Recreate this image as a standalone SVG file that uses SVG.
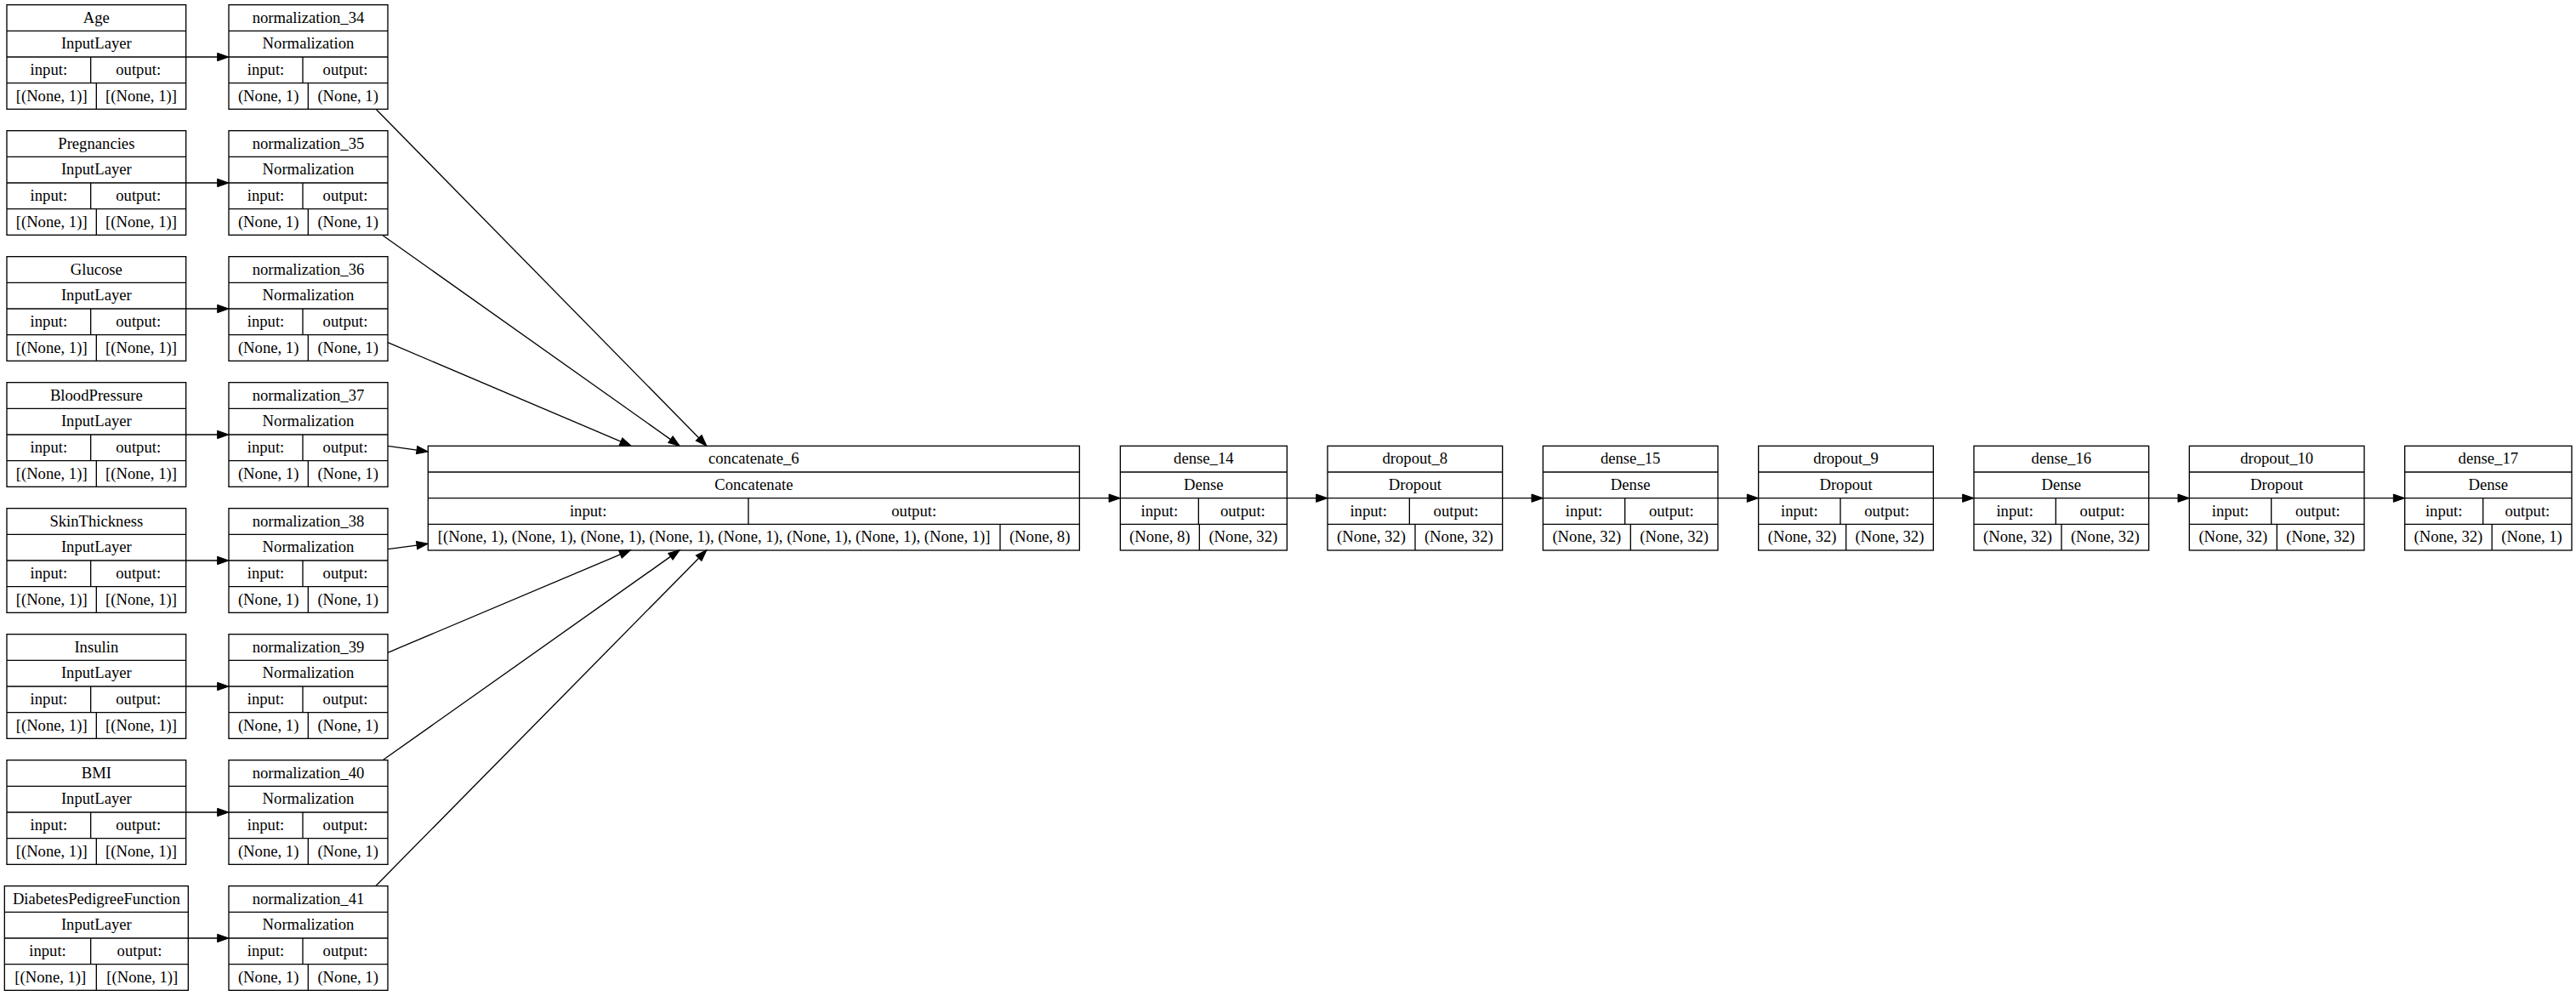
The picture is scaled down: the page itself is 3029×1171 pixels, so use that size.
<svg xmlns="http://www.w3.org/2000/svg" width="3029" height="1171" viewBox="0 0 3029 1171">
<defs>
<style>
.n rect, .n line { fill: none; stroke: #000; stroke-width: 1.33; }
.n text { font-family: "Liberation Serif", "Times New Roman", serif; font-size: 18.67px; text-anchor: middle; fill: #000; }
.e line { stroke: #000; stroke-width: 1.33; fill: none; marker-end: url(#ah); }
</style>
<marker id="ah" markerUnits="userSpaceOnUse" markerWidth="14" markerHeight="10" refX="0" refY="4.67" orient="auto" overflow="visible">
<path d="M0,0 L13.33,4.67 L0,9.33 z" fill="#000" stroke="#000" stroke-width="1"/>
</marker>
</defs>
<rect width="3029" height="1171" fill="#fff"/>

<!-- Input layers -->
<g id="in_age" class="n">
<rect x="8" y="5.67" width="210.67" height="122.67"/>
<line x1="8" y1="36.33" x2="218.67" y2="36.33"/><line x1="8" y1="67" x2="218.67" y2="67"/><line x1="8" y1="97.67" x2="218.67" y2="97.67"/>
<line x1="106.67" y1="67" x2="106.67" y2="97.67"/><line x1="113.33" y1="97.67" x2="113.33" y2="128.33"/>
<text x="113.33" y="26.67">Age</text><text x="113.33" y="57.33">InputLayer</text>
<text x="57.33" y="88">input:</text><text x="162.67" y="88">output:</text>
<text x="60.67" y="118.67">[(None, 1)]</text><text x="166" y="118.67">[(None, 1)]</text>
</g>
<g id="in_preg" class="n" transform="translate(0,148)">
<rect x="8" y="5.67" width="210.67" height="122.67"/>
<line x1="8" y1="36.33" x2="218.67" y2="36.33"/><line x1="8" y1="67" x2="218.67" y2="67"/><line x1="8" y1="97.67" x2="218.67" y2="97.67"/>
<line x1="106.67" y1="67" x2="106.67" y2="97.67"/><line x1="113.33" y1="97.67" x2="113.33" y2="128.33"/>
<text x="113.33" y="26.67">Pregnancies</text><text x="113.33" y="57.33">InputLayer</text>
<text x="57.33" y="88">input:</text><text x="162.67" y="88">output:</text>
<text x="60.67" y="118.67">[(None, 1)]</text><text x="166" y="118.67">[(None, 1)]</text>
</g>
<g id="in_glucose" class="n" transform="translate(0,296)">
<rect x="8" y="5.67" width="210.67" height="122.67"/>
<line x1="8" y1="36.33" x2="218.67" y2="36.33"/><line x1="8" y1="67" x2="218.67" y2="67"/><line x1="8" y1="97.67" x2="218.67" y2="97.67"/>
<line x1="106.67" y1="67" x2="106.67" y2="97.67"/><line x1="113.33" y1="97.67" x2="113.33" y2="128.33"/>
<text x="113.33" y="26.67">Glucose</text><text x="113.33" y="57.33">InputLayer</text>
<text x="57.33" y="88">input:</text><text x="162.67" y="88">output:</text>
<text x="60.67" y="118.67">[(None, 1)]</text><text x="166" y="118.67">[(None, 1)]</text>
</g>
<g id="in_bp" class="n" transform="translate(0,444)">
<rect x="8" y="5.67" width="210.67" height="122.67"/>
<line x1="8" y1="36.33" x2="218.67" y2="36.33"/><line x1="8" y1="67" x2="218.67" y2="67"/><line x1="8" y1="97.67" x2="218.67" y2="97.67"/>
<line x1="106.67" y1="67" x2="106.67" y2="97.67"/><line x1="113.33" y1="97.67" x2="113.33" y2="128.33"/>
<text x="113.33" y="26.67">BloodPressure</text><text x="113.33" y="57.33">InputLayer</text>
<text x="57.33" y="88">input:</text><text x="162.67" y="88">output:</text>
<text x="60.67" y="118.67">[(None, 1)]</text><text x="166" y="118.67">[(None, 1)]</text>
</g>
<g id="in_skin" class="n" transform="translate(0,592)">
<rect x="8" y="5.67" width="210.67" height="122.67"/>
<line x1="8" y1="36.33" x2="218.67" y2="36.33"/><line x1="8" y1="67" x2="218.67" y2="67"/><line x1="8" y1="97.67" x2="218.67" y2="97.67"/>
<line x1="106.67" y1="67" x2="106.67" y2="97.67"/><line x1="113.33" y1="97.67" x2="113.33" y2="128.33"/>
<text x="113.33" y="26.67">SkinThickness</text><text x="113.33" y="57.33">InputLayer</text>
<text x="57.33" y="88">input:</text><text x="162.67" y="88">output:</text>
<text x="60.67" y="118.67">[(None, 1)]</text><text x="166" y="118.67">[(None, 1)]</text>
</g>
<g id="in_insulin" class="n" transform="translate(0,740)">
<rect x="8" y="5.67" width="210.67" height="122.67"/>
<line x1="8" y1="36.33" x2="218.67" y2="36.33"/><line x1="8" y1="67" x2="218.67" y2="67"/><line x1="8" y1="97.67" x2="218.67" y2="97.67"/>
<line x1="106.67" y1="67" x2="106.67" y2="97.67"/><line x1="113.33" y1="97.67" x2="113.33" y2="128.33"/>
<text x="113.33" y="26.67">Insulin</text><text x="113.33" y="57.33">InputLayer</text>
<text x="57.33" y="88">input:</text><text x="162.67" y="88">output:</text>
<text x="60.67" y="118.67">[(None, 1)]</text><text x="166" y="118.67">[(None, 1)]</text>
</g>
<g id="in_bmi" class="n" transform="translate(0,888)">
<rect x="8" y="5.67" width="210.67" height="122.67"/>
<line x1="8" y1="36.33" x2="218.67" y2="36.33"/><line x1="8" y1="67" x2="218.67" y2="67"/><line x1="8" y1="97.67" x2="218.67" y2="97.67"/>
<line x1="106.67" y1="67" x2="106.67" y2="97.67"/><line x1="113.33" y1="97.67" x2="113.33" y2="128.33"/>
<text x="113.33" y="26.67">BMI</text><text x="113.33" y="57.33">InputLayer</text>
<text x="57.33" y="88">input:</text><text x="162.67" y="88">output:</text>
<text x="60.67" y="118.67">[(None, 1)]</text><text x="166" y="118.67">[(None, 1)]</text>
</g>
<g id="in_dpf" class="n" transform="translate(0,1036)">
<rect x="5.33" y="5.67" width="216" height="122.67"/>
<line x1="5.33" y1="36.33" x2="221.33" y2="36.33"/><line x1="5.33" y1="67" x2="221.33" y2="67"/><line x1="5.33" y1="97.67" x2="221.33" y2="97.67"/>
<line x1="106.67" y1="67" x2="106.67" y2="97.67"/><line x1="113.33" y1="97.67" x2="113.33" y2="128.33"/>
<text x="113.33" y="26.67">DiabetesPedigreeFunction</text><text x="113.33" y="57.33">InputLayer</text>
<text x="56" y="88">input:</text><text x="164" y="88">output:</text>
<text x="59.33" y="118.67">[(None, 1)]</text><text x="167.33" y="118.67">[(None, 1)]</text>
</g>

<!-- Normalization layers -->
<g id="norm_34" class="n">
<rect x="269" y="5.67" width="187" height="122.67"/>
<line x1="269" y1="36.33" x2="456" y2="36.33"/><line x1="269" y1="67" x2="456" y2="67"/><line x1="269" y1="97.67" x2="456" y2="97.67"/>
<line x1="356" y1="67" x2="356" y2="97.67"/><line x1="362.33" y1="97.67" x2="362.33" y2="128.33"/>
<text x="362.5" y="26.67">normalization_34</text><text x="362.5" y="57.33">Normalization</text>
<text x="312.5" y="88">input:</text><text x="406" y="88">output:</text>
<text x="315.67" y="118.67">(None, 1)</text><text x="409.17" y="118.67">(None, 1)</text>
</g>
<g id="norm_35" class="n" transform="translate(0,148)">
<rect x="269" y="5.67" width="187" height="122.67"/>
<line x1="269" y1="36.33" x2="456" y2="36.33"/><line x1="269" y1="67" x2="456" y2="67"/><line x1="269" y1="97.67" x2="456" y2="97.67"/>
<line x1="356" y1="67" x2="356" y2="97.67"/><line x1="362.33" y1="97.67" x2="362.33" y2="128.33"/>
<text x="362.5" y="26.67">normalization_35</text><text x="362.5" y="57.33">Normalization</text>
<text x="312.5" y="88">input:</text><text x="406" y="88">output:</text>
<text x="315.67" y="118.67">(None, 1)</text><text x="409.17" y="118.67">(None, 1)</text>
</g>
<g id="norm_36" class="n" transform="translate(0,296)">
<rect x="269" y="5.67" width="187" height="122.67"/>
<line x1="269" y1="36.33" x2="456" y2="36.33"/><line x1="269" y1="67" x2="456" y2="67"/><line x1="269" y1="97.67" x2="456" y2="97.67"/>
<line x1="356" y1="67" x2="356" y2="97.67"/><line x1="362.33" y1="97.67" x2="362.33" y2="128.33"/>
<text x="362.5" y="26.67">normalization_36</text><text x="362.5" y="57.33">Normalization</text>
<text x="312.5" y="88">input:</text><text x="406" y="88">output:</text>
<text x="315.67" y="118.67">(None, 1)</text><text x="409.17" y="118.67">(None, 1)</text>
</g>
<g id="norm_37" class="n" transform="translate(0,444)">
<rect x="269" y="5.67" width="187" height="122.67"/>
<line x1="269" y1="36.33" x2="456" y2="36.33"/><line x1="269" y1="67" x2="456" y2="67"/><line x1="269" y1="97.67" x2="456" y2="97.67"/>
<line x1="356" y1="67" x2="356" y2="97.67"/><line x1="362.33" y1="97.67" x2="362.33" y2="128.33"/>
<text x="362.5" y="26.67">normalization_37</text><text x="362.5" y="57.33">Normalization</text>
<text x="312.5" y="88">input:</text><text x="406" y="88">output:</text>
<text x="315.67" y="118.67">(None, 1)</text><text x="409.17" y="118.67">(None, 1)</text>
</g>
<g id="norm_38" class="n" transform="translate(0,592)">
<rect x="269" y="5.67" width="187" height="122.67"/>
<line x1="269" y1="36.33" x2="456" y2="36.33"/><line x1="269" y1="67" x2="456" y2="67"/><line x1="269" y1="97.67" x2="456" y2="97.67"/>
<line x1="356" y1="67" x2="356" y2="97.67"/><line x1="362.33" y1="97.67" x2="362.33" y2="128.33"/>
<text x="362.5" y="26.67">normalization_38</text><text x="362.5" y="57.33">Normalization</text>
<text x="312.5" y="88">input:</text><text x="406" y="88">output:</text>
<text x="315.67" y="118.67">(None, 1)</text><text x="409.17" y="118.67">(None, 1)</text>
</g>
<g id="norm_39" class="n" transform="translate(0,740)">
<rect x="269" y="5.67" width="187" height="122.67"/>
<line x1="269" y1="36.33" x2="456" y2="36.33"/><line x1="269" y1="67" x2="456" y2="67"/><line x1="269" y1="97.67" x2="456" y2="97.67"/>
<line x1="356" y1="67" x2="356" y2="97.67"/><line x1="362.33" y1="97.67" x2="362.33" y2="128.33"/>
<text x="362.5" y="26.67">normalization_39</text><text x="362.5" y="57.33">Normalization</text>
<text x="312.5" y="88">input:</text><text x="406" y="88">output:</text>
<text x="315.67" y="118.67">(None, 1)</text><text x="409.17" y="118.67">(None, 1)</text>
</g>
<g id="norm_40" class="n" transform="translate(0,888)">
<rect x="269" y="5.67" width="187" height="122.67"/>
<line x1="269" y1="36.33" x2="456" y2="36.33"/><line x1="269" y1="67" x2="456" y2="67"/><line x1="269" y1="97.67" x2="456" y2="97.67"/>
<line x1="356" y1="67" x2="356" y2="97.67"/><line x1="362.33" y1="97.67" x2="362.33" y2="128.33"/>
<text x="362.5" y="26.67">normalization_40</text><text x="362.5" y="57.33">Normalization</text>
<text x="312.5" y="88">input:</text><text x="406" y="88">output:</text>
<text x="315.67" y="118.67">(None, 1)</text><text x="409.17" y="118.67">(None, 1)</text>
</g>
<g id="norm_41" class="n" transform="translate(0,1036)">
<rect x="269" y="5.67" width="187" height="122.67"/>
<line x1="269" y1="36.33" x2="456" y2="36.33"/><line x1="269" y1="67" x2="456" y2="67"/><line x1="269" y1="97.67" x2="456" y2="97.67"/>
<line x1="356" y1="67" x2="356" y2="97.67"/><line x1="362.33" y1="97.67" x2="362.33" y2="128.33"/>
<text x="362.5" y="26.67">normalization_41</text><text x="362.5" y="57.33">Normalization</text>
<text x="312.5" y="88">input:</text><text x="406" y="88">output:</text>
<text x="315.67" y="118.67">(None, 1)</text><text x="409.17" y="118.67">(None, 1)</text>
</g>

<!-- Main chain -->
<g id="concatenate_6" class="n">
<rect x="503.33" y="524.33" width="766" height="122.67"/>
<line x1="503.33" y1="555" x2="1269.33" y2="555"/><line x1="503.33" y1="585.67" x2="1269.33" y2="585.67"/><line x1="503.33" y1="616.33" x2="1269.33" y2="616.33"/>
<line x1="880" y1="585.67" x2="880" y2="616.33"/><line x1="1176" y1="616.33" x2="1176" y2="647"/>
<text x="886.33" y="545.33">concatenate_6</text><text x="886.33" y="576">Concatenate</text>
<text x="691.67" y="606.67">input:</text><text x="1074.67" y="606.67">output:</text>
<text x="839.67" y="637.33">[(None, 1), (None, 1), (None, 1), (None, 1), (None, 1), (None, 1), (None, 1), (None, 1)]</text><text x="1222.67" y="637.33">(None, 8)</text>
</g>
<g id="dense_14" class="n">
<rect x="1317.33" y="524.33" width="196" height="122.67"/>
<line x1="1317.33" y1="555" x2="1513.33" y2="555"/><line x1="1317.33" y1="585.67" x2="1513.33" y2="585.67"/><line x1="1317.33" y1="616.33" x2="1513.33" y2="616.33"/>
<line x1="1409.33" y1="585.67" x2="1409.33" y2="616.33"/><line x1="1410.33" y1="616.33" x2="1410.33" y2="647"/>
<text x="1415.33" y="545.33">dense_14</text><text x="1415.33" y="576">Dense</text>
<text x="1363.33" y="606.67">input:</text><text x="1461.33" y="606.67">output:</text>
<text x="1363.83" y="637.33">(None, 8)</text><text x="1461.83" y="637.33">(None, 32)</text>
</g>
<g id="dropout_8" class="n">
<rect x="1561" y="524.33" width="205.67" height="122.67"/>
<line x1="1561" y1="555" x2="1766.67" y2="555"/><line x1="1561" y1="585.67" x2="1766.67" y2="585.67"/><line x1="1561" y1="616.33" x2="1766.67" y2="616.33"/>
<line x1="1657.33" y1="585.67" x2="1657.33" y2="616.33"/><line x1="1664" y1="616.33" x2="1664" y2="647"/>
<text x="1663.83" y="545.33">dropout_8</text><text x="1663.83" y="576">Dropout</text>
<text x="1609.17" y="606.67">input:</text><text x="1712" y="606.67">output:</text>
<text x="1612.5" y="637.33">(None, 32)</text><text x="1715.33" y="637.33">(None, 32)</text>
</g>
<g id="dense_15" class="n">
<rect x="1814.33" y="524.33" width="205.67" height="122.67"/>
<line x1="1814.33" y1="555" x2="2020" y2="555"/><line x1="1814.33" y1="585.67" x2="2020" y2="585.67"/><line x1="1814.33" y1="616.33" x2="2020" y2="616.33"/>
<line x1="1910.67" y1="585.67" x2="1910.67" y2="616.33"/><line x1="1917.33" y1="616.33" x2="1917.33" y2="647"/>
<text x="1917.17" y="545.33">dense_15</text><text x="1917.17" y="576">Dense</text>
<text x="1862.5" y="606.67">input:</text><text x="1965.33" y="606.67">output:</text>
<text x="1865.83" y="637.33">(None, 32)</text><text x="1968.67" y="637.33">(None, 32)</text>
</g>
<g id="dropout_9" class="n">
<rect x="2067.67" y="524.33" width="205.67" height="122.67"/>
<line x1="2067.67" y1="555" x2="2273.33" y2="555"/><line x1="2067.67" y1="585.67" x2="2273.33" y2="585.67"/><line x1="2067.67" y1="616.33" x2="2273.33" y2="616.33"/>
<line x1="2164" y1="585.67" x2="2164" y2="616.33"/><line x1="2170.67" y1="616.33" x2="2170.67" y2="647"/>
<text x="2170.5" y="545.33">dropout_9</text><text x="2170.5" y="576">Dropout</text>
<text x="2115.83" y="606.67">input:</text><text x="2218.67" y="606.67">output:</text>
<text x="2119.17" y="637.33">(None, 32)</text><text x="2222" y="637.33">(None, 32)</text>
</g>
<g id="dense_16" class="n">
<rect x="2321" y="524.33" width="205.67" height="122.67"/>
<line x1="2321" y1="555" x2="2526.67" y2="555"/><line x1="2321" y1="585.67" x2="2526.67" y2="585.67"/><line x1="2321" y1="616.33" x2="2526.67" y2="616.33"/>
<line x1="2417.33" y1="585.67" x2="2417.33" y2="616.33"/><line x1="2424" y1="616.33" x2="2424" y2="647"/>
<text x="2423.83" y="545.33">dense_16</text><text x="2423.83" y="576">Dense</text>
<text x="2369.17" y="606.67">input:</text><text x="2472" y="606.67">output:</text>
<text x="2372.5" y="637.33">(None, 32)</text><text x="2475.33" y="637.33">(None, 32)</text>
</g>
<g id="dropout_10" class="n">
<rect x="2574.33" y="524.33" width="205.67" height="122.67"/>
<line x1="2574.33" y1="555" x2="2780" y2="555"/><line x1="2574.33" y1="585.67" x2="2780" y2="585.67"/><line x1="2574.33" y1="616.33" x2="2780" y2="616.33"/>
<line x1="2670.67" y1="585.67" x2="2670.67" y2="616.33"/><line x1="2677.33" y1="616.33" x2="2677.33" y2="647"/>
<text x="2677.17" y="545.33">dropout_10</text><text x="2677.17" y="576">Dropout</text>
<text x="2622.5" y="606.67">input:</text><text x="2725.33" y="606.67">output:</text>
<text x="2625.83" y="637.33">(None, 32)</text><text x="2728.67" y="637.33">(None, 32)</text>
</g>
<g id="dense_17" class="n">
<rect x="2827.67" y="524.33" width="196.33" height="122.67"/>
<line x1="2827.67" y1="555" x2="3024" y2="555"/><line x1="2827.67" y1="585.67" x2="3024" y2="585.67"/><line x1="2827.67" y1="616.33" x2="3024" y2="616.33"/>
<line x1="2919.67" y1="585.67" x2="2919.67" y2="616.33"/><line x1="2930.17" y1="616.33" x2="2930.17" y2="647"/>
<text x="2925.83" y="545.33">dense_17</text><text x="2925.83" y="576">Dense</text>
<text x="2873.67" y="606.67">input:</text><text x="2971.83" y="606.67">output:</text>
<text x="2878.92" y="637.33">(None, 32)</text><text x="2977.08" y="637.33">(None, 1)</text>
</g>

<!-- Connectors -->
<g id="edges" class="e">
<line x1="218.67" y1="67" x2="255.67" y2="67"/>
<line x1="218.67" y1="215" x2="255.67" y2="215"/>
<line x1="218.67" y1="363" x2="255.67" y2="363"/>
<line x1="218.67" y1="511" x2="255.67" y2="511"/>
<line x1="218.67" y1="659" x2="255.67" y2="659"/>
<line x1="218.67" y1="807" x2="255.67" y2="807"/>
<line x1="218.67" y1="955" x2="255.67" y2="955"/>
<line x1="221.33" y1="1103" x2="255.67" y2="1103"/>

<line x1="442.7" y1="129" x2="821.66" y2="514.79"/>
<line x1="450" y1="276.7" x2="788.43" y2="516.59"/>
<line x1="456" y1="402.7" x2="730.03" y2="519.09"/>
<line x1="456" y1="524.3" x2="490.1" y2="529.13"/>
<line x1="456" y1="645.7" x2="490.09" y2="641.09"/>
<line x1="456" y1="767.3" x2="729.42" y2="651.88"/>
<line x1="450.7" y1="893.3" x2="788.42" y2="654.4"/>
<line x1="441.7" y1="1041.7" x2="821.64" y2="656.19"/>

<line x1="1269.33" y1="585.67" x2="1304" y2="585.67"/>
<line x1="1513.33" y1="585.67" x2="1547.67" y2="585.67"/>
<line x1="1766.67" y1="585.67" x2="1801" y2="585.67"/>
<line x1="2020" y1="585.67" x2="2054.33" y2="585.67"/>
<line x1="2273.33" y1="585.67" x2="2307.67" y2="585.67"/>
<line x1="2526.67" y1="585.67" x2="2561" y2="585.67"/>
<line x1="2780" y1="585.67" x2="2814.33" y2="585.67"/>
</g>
</svg>
